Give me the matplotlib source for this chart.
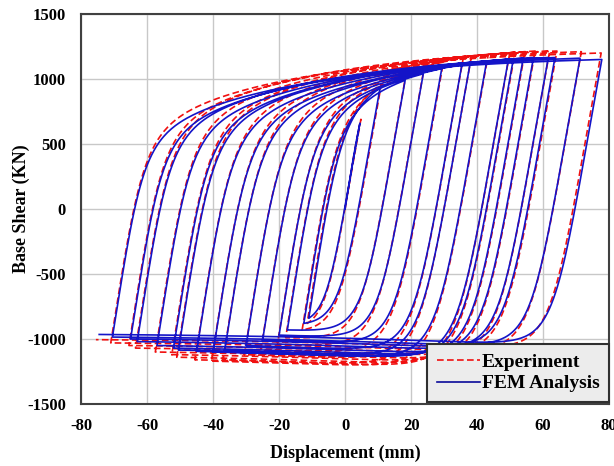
import numpy as np
import matplotlib
matplotlib.use("Agg")
import matplotlib.pyplot as plt

plt.rcParams['font.family'] = ['Liberation Serif', 'DejaVu Serif']
plt.rcParams['font.weight'] = 'bold'
plt.rcParams['axes.unicode_minus'] = False

# cycle peaks (mm, kN)
fem_pos_disp = [4.5, 10.6, 18.2, 23.7, 29.3, 35.4, 37.9, 42.9, 49.5, 51.0, 54.0, 57.1, 61.6, 63.6, 71.2, 77.8]
fem_pos_force = [660, 930, 990, 1040, 1080, 1110, 1120, 1135, 1150, 1155, 1160, 1165, 1165, 1165, 1160, 1150]
fem_neg_disp = [-11.0, -12.5, -17.5, -20.0, -25.0, -30.0, -36.5, -40.0, -45.0, -50.5, -52.0, -57.0, -63.0, -65.0, -70.5, -74.5]
fem_neg_force = [-840, -880, -930, -970, -1010, -1050, -1090, -1100, -1095, -1085, -1070, -1050, -1020, -1000, -985, -965]
fem_end_disp = 68.8

exp_pos_disp = [4.8, 11.0, 18.5, 24.0, 29.8, 35.8, 38.3, 43.4, 49.9, 51.5, 54.5, 57.6, 62.0, 64.2, 71.6, 77.6]
exp_pos_force = [690, 960, 1040, 1090, 1130, 1160, 1175, 1190, 1200, 1205, 1210, 1215, 1215, 1215, 1210, 1200]
exp_neg_disp = [-11.5, -13.0, -18.0, -20.5, -25.5, -30.5, -37.0, -40.5, -45.5, -51.0, -52.5, -57.5, -63.5, -65.5, -71.0, -75.5]
exp_neg_force = [-880, -930, -990, -1040, -1080, -1120, -1160, -1170, -1160, -1140, -1120, -1100, -1070, -1050, -1030, -1005]
exp_end_disp = 68.0

xticks = [-80, -60, -40, -20, 0, 20, 40, 60, 80]
yticks = [-1500, -1000, -500, 0, 500, 1000, 1500]


def mp(u, ke, fy, r):
    return ke * u / (1 + (ke * u / fy) ** r) ** (1 / r)


def branch(xa, fa, xb, fb, ke, r, hm, lh, n=250):
    s = 1 if xb > xa else -1
    span = abs(xb - xa)
    u = np.linspace(0, span, n)
    target = abs(fb - fa) - hm * (1 - np.exp(-span / lh))
    target = min(target, ke * span * 0.999)
    lo, hi = 1.0, 1e7
    for _ in range(100):
        mid = np.sqrt(lo * hi)
        if mp(span, ke, mid, r) < target:
            lo = mid
        else:
            hi = mid
    g = mp(u, ke, lo, r) + hm * (1 - np.exp(-u / lh))
    return xa + s * u, fa + s * g


def hysteresis(pos_d, pos_f, neg_d, neg_f, end_d):
    xs, fs = [np.array([0.0])], [np.array([0.0])]
    xa, fa = 0.0, 0.0
    for i in range(len(pos_d)):
        x, f = branch(xa, fa, pos_d[i], pos_f[i], 145, 3, 700, 50)
        xs.append(x); fs.append(f)
        xa, fa = pos_d[i], pos_f[i]
        if i < len(neg_d):
            x, f = branch(xa, fa, neg_d[i], neg_f[i], 145, 4.5, -150, 60)
            xs.append(x); fs.append(f)
            xa, fa = neg_d[i], neg_f[i]
    # last unloading, stopped part way
    x, f = branch(xa, fa, neg_d[-1], neg_f[-1], 145, 4.5, -150, 60)
    keep = x >= end_d
    xs.append(x[keep]); fs.append(f[keep])
    return np.concatenate(xs), np.concatenate(fs)


ex, ef = hysteresis(exp_pos_disp, exp_pos_force, exp_neg_disp, exp_neg_force, exp_end_disp)
fx, ff = hysteresis(fem_pos_disp, fem_pos_force, fem_neg_disp, fem_neg_force, fem_end_disp)

fig = plt.figure(figsize=(6.14, 4.66), dpi=100)
ax = fig.add_axes([0.132, 0.133, 0.86, 0.837])

ax.plot(ex, ef, color='#f01010', lw=1.2, ls=(0, (4, 2)), label='Experiment')
ax.plot(fx, ff, color='#1414c8', lw=1.2, label='FEM Analysis')

ax.set_xlim(-80, 80)
ax.set_ylim(-1500, 1500)
ax.set_xticks(xticks)
ax.set_yticks(yticks)
ax.tick_params(length=0, labelsize=12)
ax.tick_params(axis='x', pad=10)
ax.tick_params(axis='y', pad=11)
ax.grid(True, color='#c8c8c8', lw=1.0)
ax.set_axisbelow(True)
for sp in ax.spines.values():
    sp.set_color('#404040')
    sp.set_linewidth(1.5)

ax.set_xlabel('Displacement (mm)', fontsize=13, fontweight='bold', labelpad=8)
ax.set_ylabel('Base Shear (KN)', fontsize=13, fontweight='bold', labelpad=-2)

leg = ax.legend(loc='lower right', bbox_to_anchor=(1.0, 0.005), borderaxespad=0,
                fontsize=14, handlelength=2.2, handletextpad=0.1, fancybox=False,
                framealpha=1, facecolor='#ececec', edgecolor='#303030',
                borderpad=0.5, labelspacing=0.2)
leg.get_frame().set_linewidth(1.5)
leg.get_lines()[1].set_color('#0a0a9a')
for t in leg.get_texts():
    t.set_fontweight('bold')

fig.savefig('out.png', dpi=100)
